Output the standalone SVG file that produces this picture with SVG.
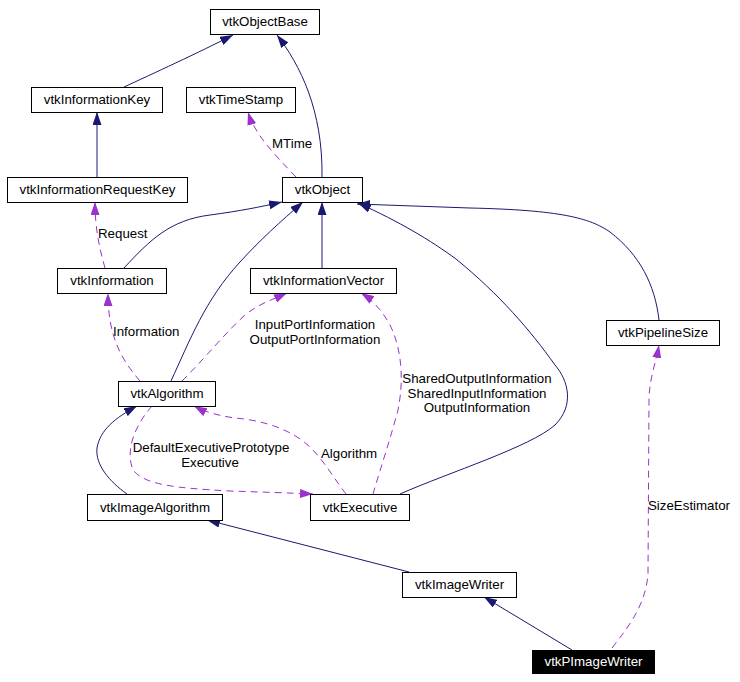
<svg xmlns="http://www.w3.org/2000/svg" width="740" height="682" viewBox="0 0 740 682">
<style>
.n rect{fill:#fff;stroke:#000;stroke-width:1}
.n text{font-family:"Liberation Sans",Arial,sans-serif;font-size:13.3px;text-anchor:middle;fill:#000}
.n.hl rect{fill:#000}
.n.hl text{fill:#fff}
.e{fill:none;stroke:#191970;stroke-width:1;marker-end:url(#an)}
.d{fill:none;stroke:#9a32cd;stroke-width:1;stroke-dasharray:7,5;marker-end:url(#ap)}
.l{font-family:"Liberation Sans",Arial,sans-serif;font-size:13.3px;fill:#000}
.m{text-anchor:middle}
</style>
<defs>
<marker id="an" markerUnits="userSpaceOnUse" viewBox="0 0 13 9" markerWidth="13" markerHeight="9" refX="13" refY="4.5" orient="auto"><path d="M0,0 L13,4.5 L0,9 z" fill="#191970"/></marker>
<marker id="ap" markerUnits="userSpaceOnUse" viewBox="0 0 13 9" markerWidth="13" markerHeight="9" refX="13" refY="4.5" orient="auto"><path d="M0,0 L13,4.5 L0,9 z" fill="#9a32cd"/></marker>
</defs>
<rect width="740" height="682" fill="#fff"/>
<g id="edges">
<path class="e" d="M124,87 C150,75 200,52 233,35"/>
<path class="e" d="M322,177 C323,110 300,65 277,35"/>
<path class="e" d="M97,177 L97,112"/>
<path class="d" d="M296,177 C275,155 255,135 248,112"/>
<path class="d" d="M105,268 C100,250 95,230 95,202"/>
<path class="e" d="M124,268 C150,240 170,220 210,215 C240,211 260,207 282,202"/>
<path class="e" d="M171,381 C190,340 205,300 240,262 C260,240 280,222 303,202"/>
<path class="e" d="M322,268 L322,202"/>
<path class="e" d="M400,494 C450,472 530,447 555,425 C575,405 568,380 555,365 C530,330 500,295 456,259 C430,240 400,222 358,203"/>
<path class="e" d="M659,320 C655,285 640,255 610,232 C590,218 560,210 470,208 L357,204"/>
<path class="d" d="M140,381 C120,358 108,335 108,293"/>
<path class="d" d="M182,381 C205,358 228,330 245,315 C260,303 272,300 287,293"/>
<path class="d" d="M373,494 C380,470 390,440 398,410 C405,375 400,345 390,325 C382,310 372,300 361,293"/>
<path class="e" d="M127,494 C110,482 95,465 97,448 C100,430 115,418 137,406"/>
<path class="d" d="M346,494 C335,480 325,462 310,447 C290,428 260,420 235,418 C220,416 205,412 194,406"/>
<path class="d" d="M152,406 C135,425 125,450 133,470 C145,485 175,488 230,491 C260,492 290,493 313,494"/>
<path class="e" d="M409,572 L207,520"/>
<path class="e" d="M572,650 L484,597"/>
<path class="d" d="M612,648 C630,625 645,605 648,575 L649,400 C649,380 656,362 659,345"/>
<text class="l" x="272" y="148">MTime</text>
<text class="l" x="98" y="238">Request</text>
<text class="l" x="113" y="336">Information</text>
<text class="l m" x="315" y="329">InputPortInformation</text>
<text class="l m" x="315" y="344">OutputPortInformation</text>
<text class="l m" x="477" y="383">SharedOutputInformation</text>
<text class="l m" x="477" y="398">SharedInputInformation</text>
<text class="l m" x="477" y="412">OutputInformation</text>
<text class="l m" x="211" y="452">DefaultExecutivePrototype</text>
<text class="l m" x="210" y="467">Executive</text>
<text class="l" x="321" y="458">Algorithm</text>
<text class="l" x="648" y="510">SizeEstimator</text>
</g>
<g id="vtkObjectBase" class="n"><rect x="210.5" y="9.5" width="109" height="25"/><text x="265" y="26">vtkObjectBase</text></g>
<g id="vtkInformationKey" class="n"><rect x="31.5" y="87.5" width="131" height="25"/><text x="97" y="104">vtkInformationKey</text></g>
<g id="vtkTimeStamp" class="n"><rect x="186.5" y="87.5" width="109" height="25"/><text x="241" y="104">vtkTimeStamp</text></g>
<g id="vtkInformationRequestKey" class="n"><rect x="7.5" y="177.5" width="180" height="25"/><text x="97.5" y="194">vtkInformationRequestKey</text></g>
<g id="vtkObject" class="n"><rect x="282.5" y="177.5" width="80" height="25"/><text x="322.5" y="194">vtkObject</text></g>
<g id="vtkInformation" class="n"><rect x="57.5" y="268.5" width="109" height="25"/><text x="112" y="285">vtkInformation</text></g>
<g id="vtkInformationVector" class="n"><rect x="250.5" y="268.5" width="146" height="25"/><text x="323.5" y="285">vtkInformationVector</text></g>
<g id="vtkPipelineSize" class="n"><rect x="606.5" y="320.5" width="113" height="25"/><text x="663" y="337">vtkPipelineSize</text></g>
<g id="vtkAlgorithm" class="n"><rect x="118.5" y="381.5" width="97" height="25"/><text x="167" y="398">vtkAlgorithm</text></g>
<g id="vtkImageAlgorithm" class="n"><rect x="87.5" y="494.5" width="135" height="26"/><text x="155" y="512">vtkImageAlgorithm</text></g>
<g id="vtkExecutive" class="n"><rect x="310.5" y="494.5" width="99" height="26"/><text x="360" y="512">vtkExecutive</text></g>
<g id="vtkImageWriter" class="n"><rect x="402.5" y="572.5" width="114" height="25"/><text x="459.5" y="589">vtkImageWriter</text></g>
<g id="vtkPImageWriter" class="n hl"><rect x="532.5" y="650.5" width="122" height="23"/><text x="593.5" y="666">vtkPImageWriter</text></g>
</svg>
